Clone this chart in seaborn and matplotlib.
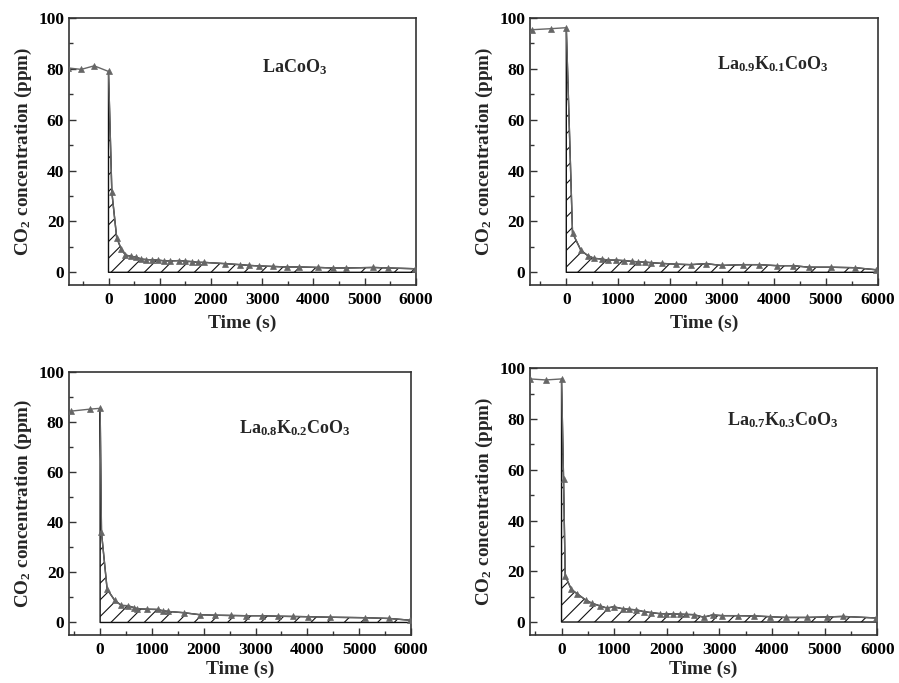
import numpy as np
import pandas as pd
import matplotlib
matplotlib.use("Agg")
import matplotlib.pyplot as plt
from matplotlib.ticker import MultipleLocator
import seaborn as sns

# ---------------- data ----------------
labels = ["LaCoO$_3$", "La$_{0.9}$K$_{0.1}$CoO$_3$",
          "La$_{0.8}$K$_{0.2}$CoO$_3$", "La$_{0.7}$K$_{0.3}$CoO$_3$"]

t1 = [-800, -533, -280, 0, 65, 160, 245, 330, 435, 540, 637, 735, 852, 969, 1086,
      1203, 1385, 1495, 1625, 1749, 1866, 2276, 2568, 2750, 2945, 3205, 3478, 3726,
      4096, 4389, 4630, 5169, 5462, 5981]
v1 = [80.4, 79.8, 81.2, 79.0, 31.6, 13.6, 9.3, 6.8, 6.3, 6.0, 5.2, 5.0, 4.9, 4.8, 4.5,
      4.5, 4.6, 4.4, 4.2, 3.9, 3.9, 3.4, 3.0, 2.7, 2.5, 2.3, 2.1, 2.1,
      1.9, 1.7, 1.7, 1.9, 1.7, 1.4]

t2 = [-668, -302, 0, 120, 283, 412, 534, 688, 800, 958, 1106, 1266, 1387, 1516, 1632,
      1838, 2108, 2397, 2690, 2994, 3410, 3713, 4066, 4374, 4676, 5094, 5563, 5970]
v2 = [95.4, 95.8, 96.2, 15.5, 8.6, 6.6, 5.5, 5.2, 4.8, 4.8, 4.6, 4.3, 4.1, 4.0, 3.8,
      3.5, 3.2, 3.0, 3.4, 2.7, 3.0, 3.0, 2.6, 2.6, 2.0, 2.0, 1.8, 1.0]

t3 = [-554, -187, 0, 26, 135, 283, 412, 534, 657, 715, 895, 1114, 1204, 1314, 1616,
      1925, 2221, 2524, 2820, 3123, 3426, 3716, 4018, 4437, 5113, 5583, 5983]
v3 = [84.5, 85.3, 85.6, 36.0, 13.3, 8.8, 6.8, 6.7, 5.9, 5.5, 5.3, 5.2, 4.7, 4.4, 3.9,
      3.1, 2.9, 2.8, 2.7, 2.7, 2.5, 2.4, 2.3, 2.1, 1.9, 1.6, 0.9]

t4 = [-596, -298, 0, 38, 70, 184, 292, 457, 577, 723, 863, 990, 1167, 1281, 1421,
      1560, 1706, 1865, 1992, 2118, 2245, 2372, 2512, 2700, 2870, 3051, 3356, 3654,
      3958, 4257, 4669, 5037, 5341, 5975]
v4 = [95.8, 95.4, 95.8, 56.4, 18.3, 12.9, 11.2, 8.7, 7.4, 6.4, 5.5, 6.0, 5.2, 5.0, 4.8,
      4.1, 3.7, 3.3, 3.2, 3.2, 3.1, 3.0, 2.9, 1.9, 2.8, 2.5, 2.5, 2.4,
      2.1, 1.8, 1.8, 2.0, 2.2, 1.6]

times = [t1, t2, t3, t4]
values = [v1, v2, v3, v4]
xmins = [-770, -700, -600, -600]
label_pos = [(3640, 80.5), (3980, 82), (3760, 77.5), (4200, 79.5)]

# ---------------- style ----------------
sns.set_style("ticks")
plt.rcParams["font.family"] = ["Liberation Serif", "DejaVu Serif"]
plt.rcParams["font.weight"] = "bold"
plt.rcParams["mathtext.fontset"] = "custom"
plt.rcParams["mathtext.rm"] = "Liberation Serif:bold"
plt.rcParams["mathtext.it"] = "Liberation Serif:bold"
plt.rcParams["mathtext.bf"] = "Liberation Serif:bold"
plt.rcParams["hatch.linewidth"] = 0.8
plt.rcParams["hatch.color"] = "#111111"

fig = plt.figure(figsize=(8.99, 6.83), dpi=100)
positions = [
    [0.0768, 0.5827, 0.4627 - 0.0768, 0.9736 - 0.5827],
    [0.5895, 0.5827, 0.9763 - 0.5895, 0.9736 - 0.5827],
    [0.0768, 0.0703, 0.4572 - 0.0768, 0.4549 - 0.0703],
    [0.5895, 0.0707, 0.9759 - 0.5895, 0.4608 - 0.0707],
]
xlabel_pads = [5, 5, 2, 2]

spine_col = "#333333"
line_col = "#666666"

for i in range(4):
    ax = fig.add_axes(positions[i])
    df = pd.DataFrame({"t": times[i], "v": values[i]})
    pos = df[df["t"] >= 0]
    ax.fill_between(pos["t"], 0, pos["v"], facecolor="none", edgecolor="#111111",
                    hatch="//", linewidth=1.0, zorder=2)
    sns.lineplot(data=df, x="t", y="v", ax=ax, color=line_col, marker="^",
                 markersize=5, markeredgewidth=0.5, markeredgecolor=line_col,
                 linewidth=1.0, sort=False, zorder=3)
    ax.set_xlim(xmins[i], 6000)
    ax.set_ylim(-5, 100)
    ax.xaxis.set_major_locator(MultipleLocator(1000))
    ax.xaxis.set_minor_locator(MultipleLocator(500))
    ax.yaxis.set_major_locator(MultipleLocator(20))
    ax.yaxis.set_minor_locator(MultipleLocator(10))
    ax.tick_params(which="both", direction="in", colors="black", labelsize=12.5,
                   top=False, right=False)
    ax.tick_params(which="major", length=5, width=1.0, color=spine_col)
    ax.tick_params(which="minor", length=3, width=1.0, color=spine_col)
    ax.tick_params(axis="x", which="major", pad=5)
    for lab in ax.get_xticklabels() + ax.get_yticklabels():
        lab.set_fontweight("bold")
    for s in ax.spines.values():
        s.set_color(spine_col)
        s.set_linewidth(1.2)
    ax.set_xlabel("Time (s)", fontsize=14, fontweight="bold", labelpad=xlabel_pads[i])
    ax.set_ylabel("CO$_2$ concentration (ppm)", fontsize=13.8, fontweight="bold",
                  labelpad=3)
    ax.text(label_pos[i][0], label_pos[i][1], labels[i], fontsize=13,
            fontweight="bold", ha="center", va="center")

fig.savefig("out.png", dpi=100)
